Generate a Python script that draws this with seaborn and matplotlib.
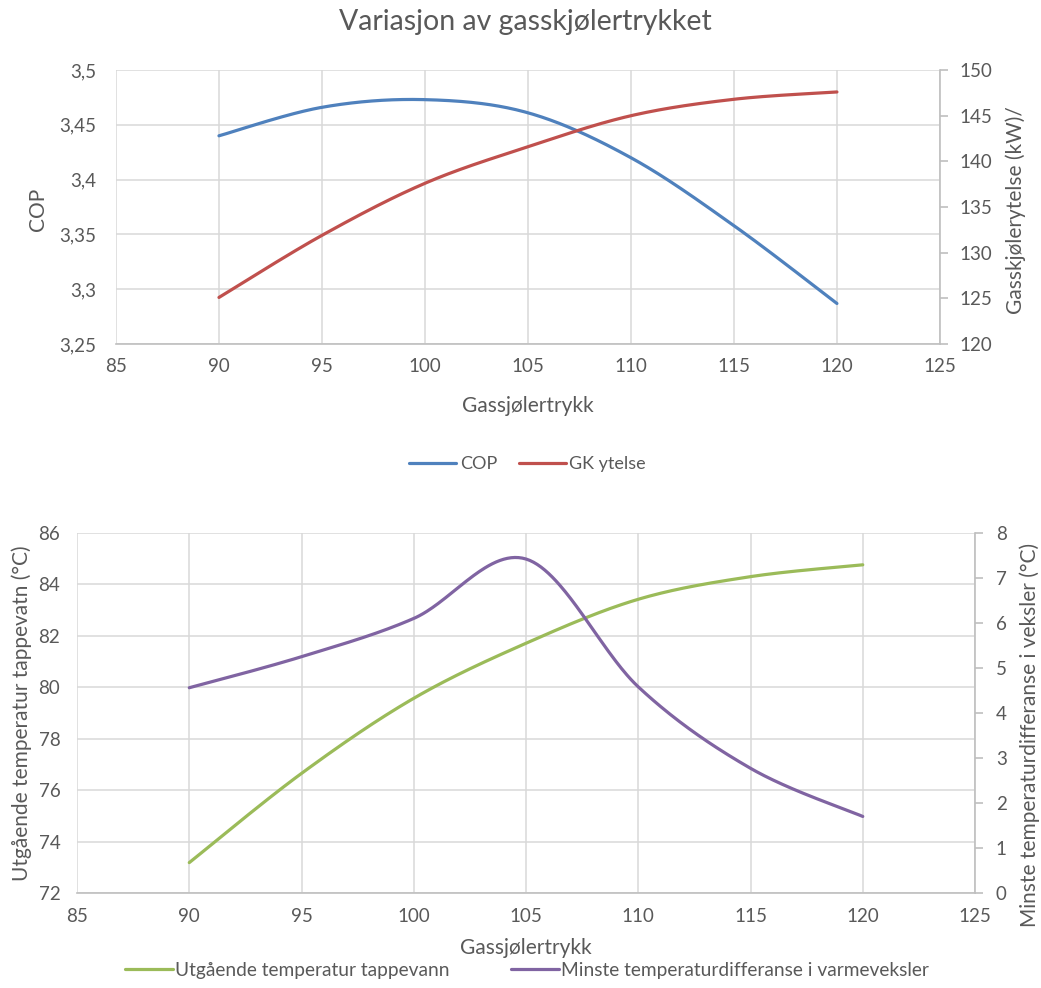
import numpy as np
import pandas as pd
import matplotlib
matplotlib.use("Agg")
import matplotlib.pyplot as plt
import seaborn as sns

# Gas cooler pressure (x) and results
trykk = [90, 95, 100, 105, 110, 115, 120]
cop = [3.440, 3.466, 3.473, 3.461, 3.420, 3.358, 3.287]
gk_ytelse = [125.1, 131.9, 137.6, 141.6, 145.0, 146.8, 147.6]
temp_tappevann = [73.18, 76.65, 79.57, 81.71, 83.42, 84.30, 84.76]
min_dt = [4.56, 5.25, 6.10, 7.42, 4.58, 2.77, 1.70]

x_ticks = [85, 90, 95, 100, 105, 110, 115, 120, 125]
cop_ticks = [3.25, 3.30, 3.35, 3.40, 3.45, 3.50]
gk_ticks = [120, 125, 130, 135, 140, 145, 150]
temp_ticks = [72, 74, 76, 78, 80, 82, 84, 86]
dt_ticks = [0, 1, 2, 3, 4, 5, 6, 7, 8]

BLUE = "#4F81BD"
RED = "#C0504D"
GREEN = "#9BBB59"
PURPLE = "#8064A2"
TEXT = "#595959"
GRID = "#D9D9D9"
AXLINE = "#BFBFBF"

TICK_FS = 13.5
LABEL_FS = 15
LEGEND_FS = 13.8

sns.set_theme(style="white")
plt.rcParams["font.family"] = ["Lato", "DejaVu Sans"]
plt.rcParams["text.color"] = TEXT
plt.rcParams["axes.labelcolor"] = TEXT
plt.rcParams["xtick.color"] = TEXT
plt.rcParams["ytick.color"] = TEXT


def smooth(x, y, n=60):
    """Smoothed line through the points (cubic Bezier segments, spreadsheet style)."""
    p = np.column_stack([x, y]).astype(float)
    xs, ys = [], []
    m = len(p)
    for i in range(m - 1):
        p0 = p[i - 1] if i > 0 else p[i]
        p1, p2 = p[i], p[i + 1]
        p3 = p[i + 2] if i + 2 < m else p[i + 1]
        c1 = p1 + (p2 - p0) / 6.0
        c2 = p2 - (p3 - p1) / 6.0
        t = np.linspace(0, 1, n, endpoint=(i == m - 2))[:, None]
        b = ((1 - t) ** 3) * p1 + 3 * ((1 - t) ** 2) * t * c1 + 3 * (1 - t) * t ** 2 * c2 + t ** 3 * p2
        xs.append(b[:, 0])
        ys.append(b[:, 1])
    return pd.DataFrame({"x": np.concatenate(xs), "y": np.concatenate(ys)})


def fmt_comma(v):
    s = f"{v:.2f}".rstrip("0").rstrip(".")
    return s.replace(".", ",")


def style_axes(ax, ax2, xpad, ypad, rpad):
    for sp in ax.spines.values():
        sp.set_visible(False)
    for sp in ax2.spines.values():
        sp.set_visible(False)
    ax2.spines["right"].set_visible(True)
    ax2.spines["right"].set_color(AXLINE)
    ax2.spines["right"].set_linewidth(1.2)
    ax.spines["bottom"].set_visible(True)
    ax.spines["bottom"].set_color(AXLINE)
    ax.spines["bottom"].set_linewidth(1.2)
    ax.grid(True, color=GRID, linewidth=1.1)
    ax.set_axisbelow(True)
    ax.tick_params(axis="x", length=0, pad=xpad, labelsize=TICK_FS, colors=TEXT)
    ax.tick_params(axis="y", length=0, pad=ypad, labelsize=TICK_FS, colors=TEXT)
    ax2.tick_params(axis="y", length=6, width=1.2, color=AXLINE, pad=rpad, labelsize=TICK_FS, labelcolor=TEXT,
                    direction="out")
    ax2.grid(False)


fig = plt.figure(figsize=(10.41, 9.88), dpi=100)

# ---------- upper chart: COP and gas cooler capacity ----------
ax1 = fig.add_axes([0.1114, 0.6518, 0.7915, 0.2773])
ax1b = ax1.twinx()

d = smooth(trykk, cop)
sns.lineplot(data=d, x="x", y="y", ax=ax1, color=BLUE, linewidth=2.3, label="COP", legend=False, sort=False)
d = smooth(trykk, gk_ytelse)
sns.lineplot(data=d, x="x", y="y", ax=ax1b, color=RED, linewidth=2.3, label="GK ytelse", legend=False, sort=False)

ax1.set_xlim(85, 125)
ax1.set_xticks(x_ticks)
ax1.set_ylim(3.25, 3.5)
ax1.set_yticks(cop_ticks)
ax1.set_yticklabels([fmt_comma(v) for v in cop_ticks])
ax1b.set_ylim(120, 150)
ax1b.set_yticks(gk_ticks)
style_axes(ax1, ax1b, xpad=10, ypad=14, rpad=8)

ax1.set_xlabel("Gassjølertrykk", fontsize=LABEL_FS)
ax1.set_ylabel("COP", fontsize=LABEL_FS)
ax1b.set_ylabel("Gasskjølerytelse (kW)/", fontsize=LABEL_FS)
ax1.xaxis.set_label_coords(0.5, -0.19)
ax1.yaxis.set_label_coords(-0.083, 0.49)
ax1b.yaxis.set_label_coords(1.079, 0.49)

h1, l1 = ax1.get_legend_handles_labels()
h2, l2 = ax1b.get_legend_handles_labels()
fig.legend(h1 + h2, l1 + l2, loc="center", bbox_to_anchor=(0.507, 0.530), ncol=2, frameon=False,
           fontsize=LEGEND_FS - 0.8, handlelength=2.6, handletextpad=0.2, columnspacing=1.2)

fig.text(0.505, 0.978, "Variasjon av gasskjølertrykket", ha="center", va="center", fontsize=20.5, color=TEXT)

# ---------- lower chart: outlet water temperature and minimum temperature difference ----------
ax2 = fig.add_axes([0.0740, 0.0962, 0.8626, 0.3644])
ax2b = ax2.twinx()

d = smooth(trykk, temp_tappevann)
sns.lineplot(data=d, x="x", y="y", ax=ax2, color=GREEN, linewidth=2.3,
             label="Utgående temperatur tappevann", legend=False, sort=False)
d = smooth(trykk, min_dt)
sns.lineplot(data=d, x="x", y="y", ax=ax2b, color=PURPLE, linewidth=2.3,
             label="Minste temperaturdifferanse i varmeveksler", legend=False, sort=False)

ax2.set_xlim(85, 125)
ax2.set_xticks(x_ticks)
ax2.set_ylim(72, 86)
ax2.set_yticks(temp_ticks)
ax2b.set_ylim(0, 8)
ax2b.set_yticks(dt_ticks)
style_axes(ax2, ax2b, xpad=11, ypad=12, rpad=9)

ax2.set_xlabel("Gassjølertrykk", fontsize=LABEL_FS)
ax2.set_ylabel("Utgående temperatur tappevatn (°C)", fontsize=LABEL_FS)
ax2b.set_ylabel("Minste temperaturdifferanse i veksler (°C)", fontsize=LABEL_FS)
ax2.xaxis.set_label_coords(0.5, -0.125)
ax2.yaxis.set_label_coords(-0.050, 0.5)
ax2b.yaxis.set_label_coords(1.050, 0.44)

h1, l1 = ax2.get_legend_handles_labels()
h2, l2 = ax2b.get_legend_handles_labels()
fig.legend(h1 + h2, l1 + l2, loc="center", bbox_to_anchor=(0.506, 0.018), ncol=2, frameon=False,
           fontsize=LEGEND_FS, handlelength=2.5, handletextpad=0.1, columnspacing=3.2)

fig.savefig("out.png", dpi=100)
